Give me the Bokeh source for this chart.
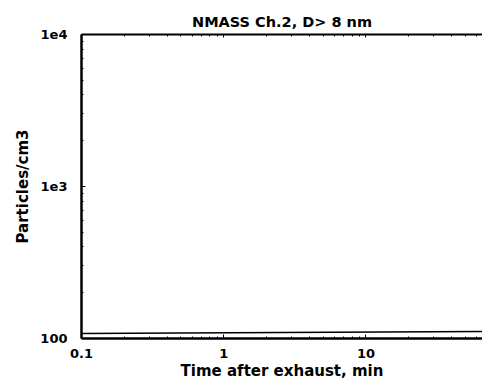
from bokeh.plotting import figure
from bokeh.models import FixedTicker, LogAxis, Range1d, ColumnDataSource
from bokeh.embed import file_html
from bokeh.resources import INLINE

# data
time_min = [0.1, 66.0]
particles = [108.0, 111.0]
x_ticks = [0.1, 1, 10]
x_tick_labels = ["0.1", "1", "10"]
y_ticks = [100, 1000, 10000]
y_tick_labels = ["100", "1e3", "1e4"]

FONT = "DejaVu Sans"

p = figure(width=482, height=391, x_axis_type="log", y_axis_type="log",
           x_range=Range1d(0.1, 66), y_range=Range1d(100, 10000),
           output_backend="svg", toolbar_location=None,
           min_border_left=81, min_border_right=0, min_border_top=34, min_border_bottom=53)
p.title.text = "NMASS Ch.2, D> 8 nm"
p.title.align = "center"
p.title.text_font = FONT
p.title.text_font_size = "14.5px"
p.title.text_font_style = "bold"
p.title.text_color = "black"
p.outline_line_color = None
p.grid.visible = False
p.background_fill_color = "white"
p.border_fill_color = "white"

xminor = [m * 10 ** e for e in (-1, 0, 1) for m in range(2, 10)]
yminor = [m * 10 ** e for e in (2, 3) for m in range(2, 10)]
p.xaxis.ticker = FixedTicker(ticks=x_ticks, minor_ticks=xminor)
p.yaxis.ticker = FixedTicker(ticks=y_ticks, minor_ticks=yminor)
p.xaxis.major_label_overrides = dict(zip(x_ticks, x_tick_labels))
p.yaxis.major_label_overrides = dict(zip(y_ticks, y_tick_labels))
p.xaxis.axis_label = "Time after exhaust, min"
p.yaxis.axis_label = "Particles/cm3"

for ax in (p.xaxis[0], p.yaxis[0]):
    ax.axis_line_width = 2.5
    ax.axis_line_color = "black"
    ax.major_tick_in = 4
    ax.major_tick_out = 0
    ax.minor_tick_in = 2
    ax.minor_tick_out = 0
    ax.major_label_text_font = FONT
    ax.major_label_text_font_style = "bold"
    ax.major_label_text_font_size = "13px"
    ax.major_label_text_color = "black"
    ax.axis_label_text_font = FONT
    ax.axis_label_text_font_style = "bold"
    ax.axis_label_text_font_size = "15px"
    ax.axis_label_text_color = "black"
p.xaxis.axis_label_standoff = 1
p.yaxis.axis_label_standoff = 5
p.xaxis.major_label_standoff = 10
p.yaxis.major_label_standoff = 14

top = LogAxis(ticker=FixedTicker(ticks=x_ticks, minor_ticks=xminor),
              major_label_text_color=None, axis_line_width=2,
              major_tick_in=3, major_tick_out=0, minor_tick_in=2, minor_tick_out=0,
              major_label_standoff=0)
p.add_layout(top, "above")

src = ColumnDataSource(dict(x=time_min, y=particles))
p.line("x", "y", source=src, line_color="black", line_width=1.5)

open("out.html", "w").write(file_html(p, INLINE))
